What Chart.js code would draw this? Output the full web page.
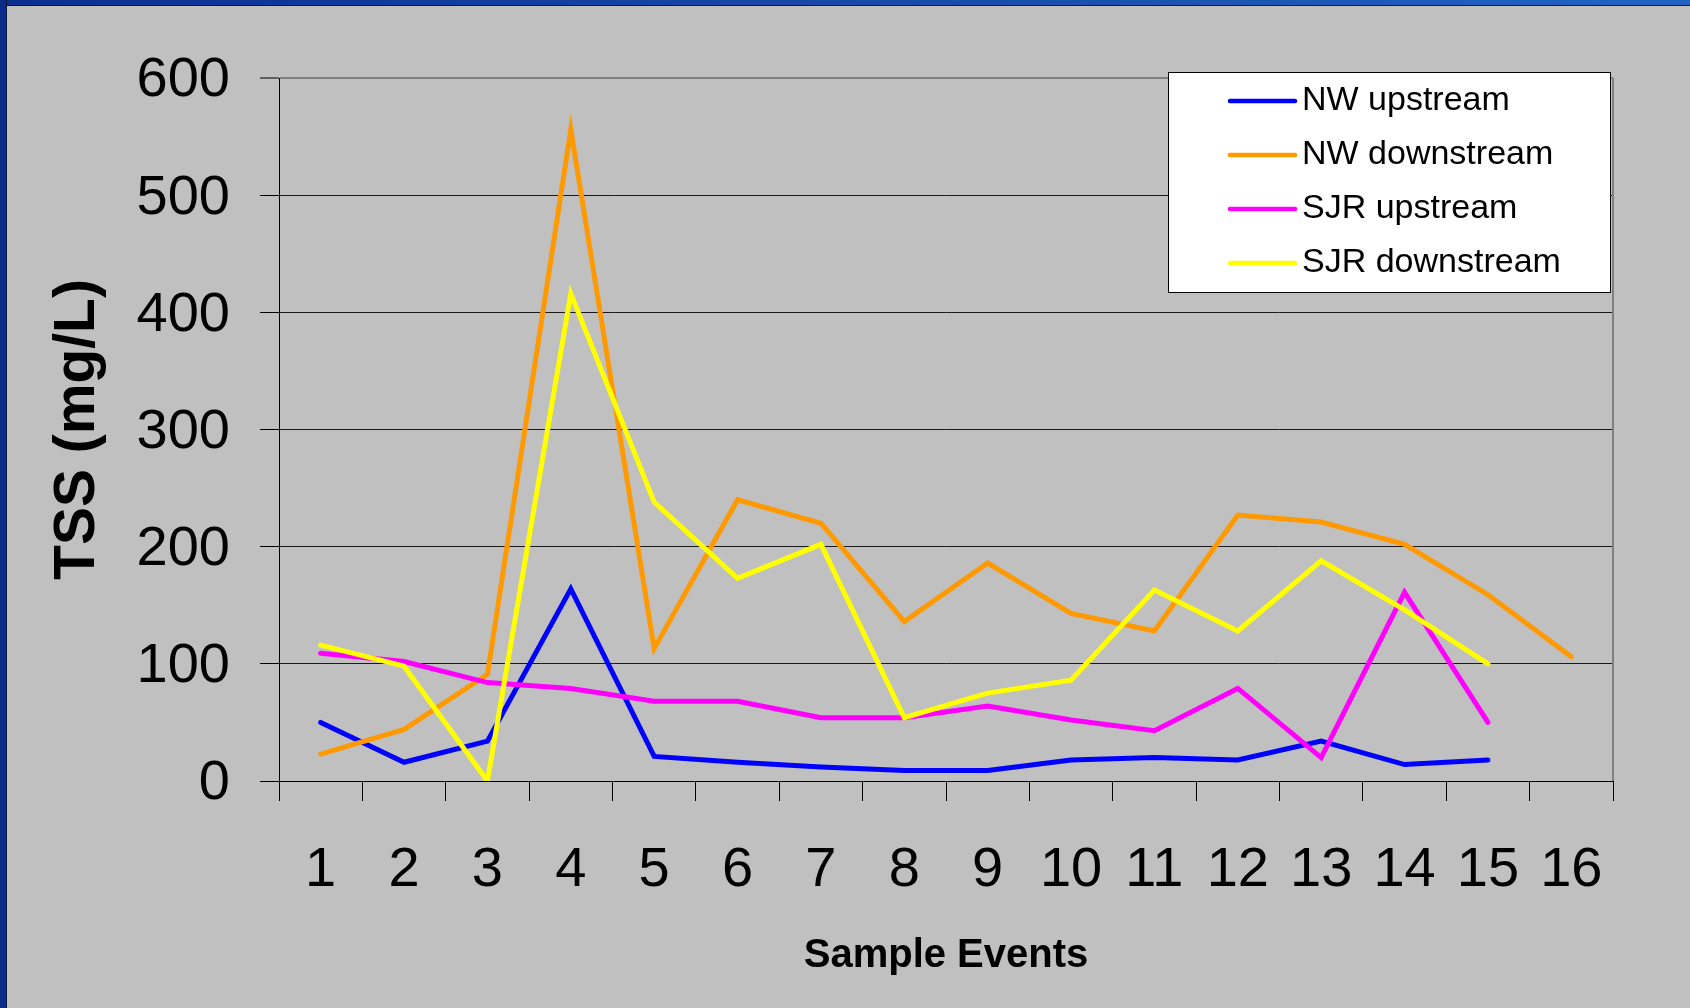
<!DOCTYPE html>
<html>
<head>
<meta charset="utf-8">
<title>TSS by sample event</title>
<script src="https://cdn.jsdelivr.net/npm/chart.js@4.4.1/dist/chart.umd.min.js"></script>
<style>
  html, body { margin: 0; padding: 0; background: #c0c0c0; overflow: hidden; }
  #wrap { position: relative; width: 1690px; height: 1008px; }
  #tssChart { position: absolute; left: 0; top: 0; }
  /* slide frame: blue band along the top and left edges */
  .edge-top { position: absolute; left: 0; top: 0; width: 1690px; height: 5px;
              background: linear-gradient(to right, #0c2f8f, #2163c4); border-bottom: 1px solid #0a1838; }
  .edge-left { position: absolute; left: 0; top: 0; width: 6px; height: 1008px;
               background: #0b2b8a; border-right: 1px solid #081636; }
</style>
</head>
<body>
<div id="wrap">
  <canvas id="tssChart" width="1690" height="1008"></canvas>
  <div class="edge-top"></div>
  <div class="edge-left"></div>
</div>
<script>
// ---- data (TSS, mg/L) ----
const sampleEvents = ['1', '2', '3', '4', '5', '6', '7', '8', '9', '10', '11', '12', '13', '14', '15', '16'];
const nwUpstream   = [50, 16, 34, 164, 21, 16, 12, 9, 9, 18, 20, 18, 34, 14, 18, null];
const nwDownstream = [23, 44, 91, 556, 113, 240, 220, 136, 186, 143, 128, 227, 221, 202, 159, 106];
const sjrUpstream  = [109, 102, 84, 79, 68, 68, 54, 54, 64, 52, 43, 79, 20, 161, 50, null];
const sjrDownstream = [116, 98, 0, 416, 238, 173, 202, 54, 75, 86, 163, 128, 188, 146, 100, null];
const seriesNames  = ['NW upstream', 'NW downstream', 'SJR upstream', 'SJR downstream'];
const yMin = 0, yMax = 600, yStep = 100;

const FONT = "'Liberation Sans', Arial, sans-serif";
const colors = ['#0000ff', '#ff9900', '#ff00ff', '#ffff00'];

function lineSet(i, values) {
    return {
        label: seriesNames[i],
        data: values,
        borderColor: colors[i],
        backgroundColor: colors[i],
        borderWidth: 5,
        borderCapStyle: 'round',
        borderJoinStyle: 'miter',
        pointRadius: 0,
        tension: 0,
        fill: false,
        spanGaps: false,
        order: 3 - i            // later series painted on top
    };
}

// gray frame on the right of the plot area
const plotFrame = {
    id: 'plotFrame',
    beforeDatasetsDraw(chart) {
        const { ctx, chartArea: a } = chart;
        ctx.save();
        ctx.strokeStyle = '#808080';
        ctx.lineWidth = 2;
        ctx.beginPath();
        ctx.moveTo(a.right, a.top);
        ctx.lineTo(a.right, a.bottom);
        ctx.stroke();
        ctx.restore();
    }
};

// boxed legend in the upper right corner
const boxLegend = {
    id: 'boxLegend',
    afterDraw(chart) {
        const ctx = chart.ctx;
        const box = { x: 1168.5, y: 72.5, w: 442, h: 220 };
        ctx.save();
        ctx.fillStyle = '#ffffff';
        ctx.fillRect(box.x, box.y, box.w, box.h);
        ctx.strokeStyle = '#000000';
        ctx.lineWidth = 1;
        ctx.strokeRect(box.x, box.y, box.w, box.h);

        ctx.font = '34px ' + FONT;
        ctx.textAlign = 'left';
        ctx.textBaseline = 'alphabetic';
        chart.data.datasets.forEach((ds, i) => {
            const y = 101 + i * 54;
            ctx.strokeStyle = ds.borderColor;
            ctx.lineWidth = 4.5;
            ctx.lineCap = 'round';
            ctx.beginPath();
            ctx.moveTo(1230, y);
            ctx.lineTo(1295, y);
            ctx.stroke();
            ctx.fillStyle = '#000000';
            ctx.fillText(ds.label, 1302, y + 9);
        });
        ctx.restore();
    }
};

new Chart(document.getElementById('tssChart'), {
    type: 'line',
    data: {
        labels: sampleEvents,
        datasets: [
            lineSet(0, nwUpstream),
            lineSet(1, nwDownstream),
            lineSet(2, sjrUpstream),
            lineSet(3, sjrDownstream)
        ]
    },
    options: {
        responsive: false,
        animation: false,
        devicePixelRatio: 1,
        events: [],
        layout: { padding: { left: 0, top: 78, right: 77, bottom: 0 } },
        plugins: {
            legend: { display: false },
            tooltip: { enabled: false }
        },
        scales: {
            x: {
                type: 'category',
                offset: true,
                afterFit: scale => { scale.height = 227; },
                grid: {
                    offset: true,
                    drawOnChartArea: false,
                    drawTicks: true,
                    tickLength: 20,
                    color: '#000000',
                    lineWidth: 1
                },
                border: { color: '#000000', width: 1 },
                ticks: {
                    color: '#000000',
                    font: { family: FONT, size: 56 },
                    padding: 36,
                    maxRotation: 0,
                    autoSkip: false
                },
                title: {
                    display: true,
                    text: 'Sample Events',
                    color: '#000000',
                    font: { family: FONT, size: 40, weight: 'bold' },
                    padding: { top: 0, bottom: 28 }
                }
            },
            y: {
                min: yMin,
                max: yMax,
                afterFit: scale => { scale.width = 279; },
                grid: {
                    color: c => (c.tick && c.tick.value === yMax) ? '#808080' : '#1a1a1a',
                    lineWidth: c => (c.tick && c.tick.value === yMax) ? 2 : 1,
                    tickColor: '#000000',
                    tickWidth: 1,
                    tickLength: 19
                },
                border: { color: '#000000', width: 1 },
                ticks: {
                    stepSize: yStep,
                    color: '#000000',
                    font: { family: FONT, size: 56 },
                    padding: 30,
                    labelOffset: 3
                },
                title: {
                    display: true,
                    text: 'TSS (mg/L)',
                    color: '#000000',
                    font: { family: FONT, size: 57, weight: 'bold' },
                    padding: { top: 44, bottom: 0 }
                }
            }
        }
    },
    plugins: [plotFrame, boxLegend]
});
</script>
</body>
</html>
